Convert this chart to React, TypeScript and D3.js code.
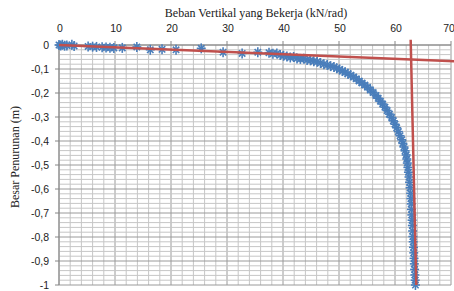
import React from "react";
import * as d3 from "d3";

// beban (kN/rad) vs penurunan (m)
const loadX = [0, 0.3, 0.6, 1, 1.4, 2.3, 2.7, 5.2, 6, 6.7, 7.7, 8.4, 9.1, 9.8, 11.3, 13.9, 16.3, 18.4, 20.9, 25.4, 29.3, 32.7, 35.5,
  37.5, 38.2, 38.9, 39.5, 40.1, 40.7, 41.3, 41.9, 42.5, 43.1, 43.7, 44.3, 44.9, 45.5, 46.1, 46.7, 47.3, 47.9, 48.5, 49.1, 49.6,
  50.1, 50.6, 51.1, 51.6, 52.1, 52.6, 53.1, 53.6, 54.1, 54.6, 55.1, 55.6, 56.1, 56.6, 57.0, 57.4, 57.8, 58.2, 58.6, 59.0, 59.4,
  59.7, 60.0, 60.3, 60.6, 60.9, 61.2, 61.4, 61.6, 61.8, 62.0, 62.1, 62.2, 62.3, 62.4, 62.5, 62.6, 62.7, 62.8, 62.85, 62.9, 62.95,
  63.0, 63.05, 63.1, 63.15, 63.2, 63.25, 63.3, 63.35, 63.4, 63.45, 63.5, 63.55, 63.6, 63.65];
const settleY = [0, -0.002, 0.001, -0.003, -0.002, 0.001, -0.004, -0.006, -0.007, -0.008, -0.009, -0.01, -0.011, -0.012, -0.012,
  -0.008, -0.02, -0.018, -0.02, -0.014, -0.03, -0.035, -0.03,
  -0.032, -0.036, -0.035, -0.042, -0.045, -0.048, -0.052, -0.05, -0.056, -0.058, -0.057, -0.062, -0.064, -0.068, -0.07, -0.075,
  -0.08, -0.083, -0.088, -0.092, -0.097, -0.102, -0.108, -0.114, -0.12, -0.126, -0.133, -0.141, -0.15, -0.158, -0.167, -0.176,
  -0.187, -0.198, -0.21, -0.222, -0.234, -0.246, -0.259, -0.273, -0.288, -0.302, -0.316, -0.33, -0.345, -0.361, -0.378, -0.395,
  -0.41, -0.425, -0.441, -0.458, -0.475, -0.492, -0.51, -0.53, -0.55, -0.572, -0.595, -0.618, -0.64, -0.662, -0.685, -0.708,
  -0.73, -0.752, -0.775, -0.798, -0.82, -0.843, -0.866, -0.889, -0.912, -0.935, -0.958, -0.98, -1.0];

// two red tangent lines
const tangentA = [[0, 0], [70.7, -0.068]];
const tangentB = [[62.8, 0.022], [63.8, -1.0]];

const xTicks = [0, 10, 20, 30, 40, 50, 60, 70];
const yTicks = [0, -0.1, -0.2, -0.3, -0.4, -0.5, -0.6, -0.7, -0.8, -0.9, -1];

const W = 454, H = 291;
const margin = { top: 45, right: 3, bottom: 6, left: 59 };

export default function App() {
  const x = d3.scaleLinear().domain([0, 70]).range([margin.left, W - margin.right]);
  const y = d3.scaleLinear().domain([0, -1]).range([margin.top, H - margin.bottom]);

  const minorX = d3.range(0, 70.01, 2);
  const minorY = d3.range(0, 50.5, 1).map((i) => -i * 0.02);
  const line = d3.line<number[]>().x((d) => x(d[0])).y((d) => y(d[1]));
  const pts = loadX.map((v, i) => [v, settleY[i]]);
  const fmt = (v: number) => (v === 0 ? "0" : String(+v.toFixed(1)).replace(".", ","));
  const s = 4.5;
  const dg = 3.2;

  return (
    <svg width={W} height={H} style={{ position: "absolute", left: 0, top: 0, background: "#fff" }}>
      <g>
        {minorX.map((v) => (
          <line key={"mx" + v} x1={x(v)} x2={x(v)} y1={y(0)} y2={y(-1)}
            stroke={v % 10 === 0 ? "#9a9a9a" : "#c6c6c6"} strokeWidth={1} />
        ))}
        {minorY.map((v, i) => (
          <line key={"my" + i} x1={x(0)} x2={x(70)} y1={y(v)} y2={y(v)}
            stroke={i % 5 === 0 ? "#9a9a9a" : "#c6c6c6"} strokeWidth={1} />
        ))}
      </g>
      {/* axes */}
      <line x1={x(0)} x2={x(0)} y1={y(0)} y2={y(-1)} stroke="#868686" />
      <line x1={x(0)} x2={x(70)} y1={y(0)} y2={y(0)} stroke="#868686" />
      {yTicks.map((v) => (
        <line key={"yt" + v} x1={x(0) - 4} x2={x(0)} y1={y(v)} y2={y(v)} stroke="#868686" />
      ))}
      {xTicks.map((v) => (
        <line key={"xt" + v} x1={x(v)} x2={x(v)} y1={y(0) - 4} y2={y(0)} stroke="#868686" />
      ))}
      {/* series markers */}
      <g stroke="#4A7EBB" strokeWidth={1.6}>
        {pts.map((d, i) => {
          const cx = x(d[0]), cy = y(d[1]);
          return (
            <g key={"p" + i}>
              <line x1={cx} x2={cx} y1={cy - s - 0.5} y2={cy + s + 0.5} />
              <line x1={cx - s} x2={cx + s} y1={cy} y2={cy} />
              <line x1={cx - dg} x2={cx + dg} y1={cy - dg} y2={cy + dg} />
              <line x1={cx - dg} x2={cx + dg} y1={cy + dg} y2={cy - dg} />
            </g>
          );
        })}
      </g>
      <path d={line(tangentA) || ""} fill="none" stroke="#C0504D" strokeWidth={2.5} />
      <path d={line(tangentB) || ""} fill="none" stroke="#C0504D" strokeWidth={2.5} />
      {/* tick labels */}
      <g fontFamily="Liberation Sans, Arial, sans-serif" fontSize={10.5} fill="#222">
        {xTicks.map((v) => (
          <text key={"xl" + v} x={v === 70 ? x(v) - 2 : x(v) + 1} y={32} textAnchor="middle">{v}</text>
        ))}
        {yTicks.map((v) => (
          <text key={"yl" + v} x={49} y={y(v) + 4} textAnchor="end">{fmt(v)}</text>
        ))}
      </g>
      <text x={256} y={17} textAnchor="middle" fontFamily="Liberation Serif, serif" fontSize={12} fill="#222">
        Beban Vertikal yang Bekerja (kN/rad)
      </text>
      <text transform="translate(19,157) rotate(-90)" textAnchor="middle" fontFamily="Liberation Serif, serif"
        fontSize={12} fill="#222">
        Besar Penurunan (m)
      </text>
    </svg>
  );
}
